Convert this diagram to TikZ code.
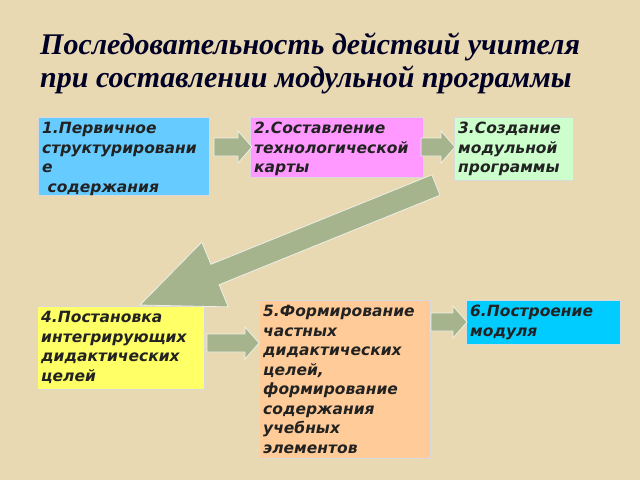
\documentclass[tikz,border=0pt]{standalone}
\usepackage{fontspec}
\setmainfont{DejaVu Sans}
\newfontfamily\titlefont{Liberation Serif}
\usetikzlibrary{calc}
\definecolor{bg}{HTML}{E9D9B2}
\definecolor{arr}{HTML}{A6B48E}
\definecolor{cA}{HTML}{66CCFF}
\definecolor{cB}{HTML}{FF99FF}
\definecolor{cC}{HTML}{CCFFCC}
\definecolor{cD}{HTML}{FFFF66}
\definecolor{cE}{HTML}{FFCC99}
\definecolor{cF}{HTML}{00CCFF}
\definecolor{tx}{HTML}{222222}
\tikzset{
 box/.style={draw=white!85!black,line width=1pt,anchor=north west,inner sep=0pt},
 txt/.style={anchor=north west,inner xsep=4pt,inner ysep=5pt,align=left,text=tx,font=\fontsize{15.5}{19.5}\selectfont\bfseries\itshape},
 barrow/.style={fill=arr,draw=white!80!arr,line width=0.8pt}
}
\newcommand{\blockarr}[3]{% name, start, length
 \coordinate (#1) at #2;
 \path[barrow] ($(#1)+(0,-9)$) -- ++(#3-14,0) -- ++(0,-7) -- ($(#1)+(#3,0)$) -- ($(#1)+(#3-14,16)$) -- ++(0,-7) -- ($(#1)+(0,9)$) -- cycle;
}
\begin{document}
\begin{tikzpicture}[x=1pt,y=-1pt]
\fill[bg] (0,0) rectangle (640,480);
\useasboundingbox (0,0) rectangle (640,480);
\node[anchor=north west,inner sep=0pt,align=left,text=black!85!blue,font=\titlefont\fontsize{30}{33}\selectfont\bfseries\itshape] (title) at (40,33) {Последовательность действий учителя\\при составлении модульной программы};
\node[box,fill=cA,minimum width=171pt,minimum height=78pt] (b1) at (38,117) {};
\node[txt] at (b1.north west) {1.Первичное\\структурировани\\е\\\ содержания};
\node[box,fill=cB,minimum width=173pt,minimum height=60pt] (b2) at (250,117) {};
\node[txt] at (b2.north west) {2.Составление\\технологической\\карты};
\node[box,fill=cC,minimum width=119pt,minimum height=63pt] (b3) at (454,117) {};
\node[txt] at (b3.north west) {3.Создание\\модульной\\программы};
\node[box,fill=cD,minimum width=167pt,minimum height=83pt] (b4) at (37,306) {};
\node[txt] at (b4.north west) {4.Постановка\\интегрирующих\\дидактических\\целей};
\node[box,fill=cE,minimum width=171pt,minimum height=158pt] (b5) at (259,300) {};
\node[txt] at (b5.north west) {5.Формирование\\частных\\дидактических\\целей,\\формирование\\содержания\\учебных\\элементов};
\node[box,fill=cF,minimum width=154pt,minimum height=44pt] (b6) at (466,300) {};
\node[txt] at (b6.north west) {6.Построение\\модуля};
\blockarr{a12}{(214,147)}{38}
\blockarr{a23}{(421,147)}{34}
\blockarr{a45}{(207,343)}{52}
\blockarr{a56}{(431,322)}{36}
% big arrow
\coordinate (tip) at (140,305);
\coordinate (tail) at (436,185);
\coordinate (hb) at (215,274.5);
\fill[arr,draw=white!80!arr,line width=0.8pt]
 ($(tail)+(4.1,10.2)$) -- ($(hb)+(4.1,10.2)$) -- ($(hb)+(13.2,32.4)$) -- (tip)
 -- ($(hb)+(-13.2,-32.4)$) -- ($(hb)+(-4.1,-10.2)$) -- ($(tail)+(-4.1,-10.2)$) -- cycle;
\end{tikzpicture}
\end{document}
